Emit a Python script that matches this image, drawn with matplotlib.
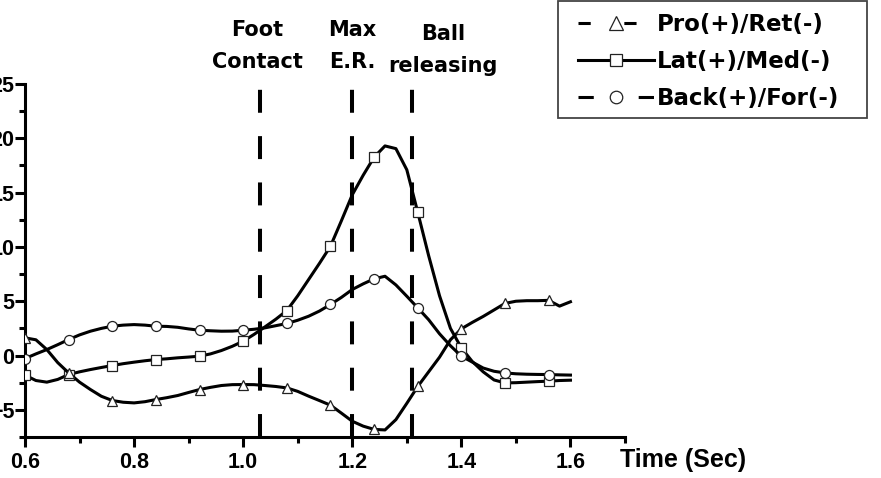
import matplotlib
matplotlib.use("Agg")
import matplotlib.pyplot as plt
from matplotlib.lines import Line2D
from matplotlib.patches import Rectangle
from matplotlib.ticker import MultipleLocator, FormatStrFormatter
from matplotlib.transforms import blended_transform_factory

# sample times (s), read every 0.02 s off the curves; markers sit every 0.08 s
time = [0.60, 0.62, 0.64, 0.66, 0.68, 0.70, 0.72, 0.74, 0.76, 0.78,
        0.80, 0.82, 0.84, 0.86, 0.88, 0.90, 0.92, 0.94, 0.96, 0.98,
        1.00, 1.02, 1.04, 1.06, 1.08, 1.10, 1.12, 1.14, 1.16, 1.18,
        1.20, 1.22, 1.24, 1.26, 1.28, 1.30, 1.32, 1.34, 1.36, 1.38,
        1.40, 1.42, 1.44, 1.46, 1.48, 1.50, 1.52, 1.54, 1.56, 1.58, 1.60]

pro_ret = [1.63, 1.45, 0.55, -0.65, -1.60, -2.45, -3.13, -3.75, -4.14, -4.30,
           -4.36, -4.25, -4.05, -3.88, -3.68, -3.40, -3.13, -2.93, -2.76, -2.68,
           -2.67, -2.68, -2.76, -2.85, -2.98, -3.30, -3.74, -4.15, -4.57, -5.30,
           -6.05, -6.50, -6.80, -6.85, -5.90, -4.40, -2.85, -1.50, -0.15, 1.45,
           2.46, 3.05, 3.60, 4.20, 4.80, 5.00, 5.05, 5.05, 5.08, 4.55, 4.95]

lat_med = [-1.80, -2.30, -2.45, -2.20, -1.75, -1.50, -1.29, -1.10, -0.92, -0.75,
           -0.61, -0.48, -0.37, -0.30, -0.21, -0.14, -0.06, 0.15, 0.46, 0.85,
           1.32, 1.95, 2.64, 3.35, 4.14, 5.50, 7.00, 8.50, 10.06, 12.40,
           14.80, 16.60, 18.26, 19.30, 19.05, 17.10, 13.20, 9.20, 5.50, 2.50,
           0.70, -0.55, -1.50, -2.25, -2.52, -2.50, -2.45, -2.40, -2.36, -2.30, -2.27]

back_for = [-0.28, 0.15, 0.55, 1.00, 1.47, 1.90, 2.24, 2.50, 2.70, 2.80,
            2.85, 2.80, 2.70, 2.68, 2.60, 2.45, 2.33, 2.28, 2.24, 2.25,
            2.33, 2.42, 2.55, 2.75, 2.95, 3.25, 3.62, 4.10, 4.70, 5.35,
            6.08, 6.60, 7.06, 7.30, 6.50, 5.46, 4.39, 3.30, 2.00, 0.90,
            -0.06, -0.60, -1.15, -1.45, -1.60, -1.68, -1.72, -1.74, -1.75, -1.78, -1.80]

series_labels = ["Pro(+)/Ret(-)", "Lat(+)/Med(-)", "Back(+)/For(-)"]
event_labels = ["Foot\nContact", "Max\nE.R.", "Ball\nreleasing"]
event_times = [1.03, 1.20, 1.31]

plt.rcParams["font.family"] = ["Liberation Sans", "DejaVu Sans"]
plt.rcParams["font.weight"] = "bold"

fig = plt.figure(figsize=(8.81, 4.78), dpi=100)
ax = fig.add_axes([25 / 881, 1 - 437 / 478, 600 / 881, 353 / 478])

mk = dict(markerfacecolor="white", markeredgecolor="#222222",
          markeredgewidth=0.9, markevery=slice(0, 49, 4))
ax.plot(time, lat_med, color="black", lw=2.2, marker="s", ms=6.5, zorder=3, **mk)
ax.plot(time, back_for, color="black", lw=2.2, marker="o", ms=7.2, zorder=3, **mk)
ax.plot(time, pro_ret, color="black", lw=2.2, marker="^", ms=7.8, zorder=4, **mk)

# event markers, dashes start at the x axis
for t in event_times:
    ax.plot([t, t], [-7.5, 24.6], color="black", lw=2.9,
            linestyle=(0, (5.7, 5.8)), clip_on=False, zorder=2)

ax.set_xlim(0.6, 1.7)
ax.set_ylim(-7.5, 25)
ax.xaxis.set_major_locator(MultipleLocator(0.2))
ax.xaxis.set_minor_locator(MultipleLocator(0.1))
ax.xaxis.set_major_formatter(FormatStrFormatter("%.1f"))
ax.yaxis.set_major_locator(MultipleLocator(5))
ax.yaxis.set_minor_locator(MultipleLocator(2.5))

for s in ("top", "right"):
    ax.spines[s].set_visible(False)
for s in ("left", "bottom"):
    ax.spines[s].set_linewidth(2.2)

ax.tick_params(which="major", direction="out", length=7, width=2.2, labelsize=15.5)
ax.tick_params(which="minor", direction="out", length=4.5, width=2.2)
ax.tick_params(axis="x", which="major", pad=4)
ax.tick_params(axis="y", which="major", pad=0.5)

fig.text(620 / 881, 1 - 467 / 478, "Time (Sec)", fontsize=18,
         fontweight="bold", va="baseline", ha="left")

trans = blended_transform_factory(ax.transData, fig.transFigure)
label_x = [1.026, 1.200, 1.366]
label_y = [1 - 46 / 478, 1 - 46 / 478, 1 - 50 / 478]
for lab, lx, ly in zip(event_labels, label_x, label_y):
    ax.text(lx, ly, lab, transform=trans, ha="center", va="center",
            fontsize=15, fontweight="bold", family="DejaVu Sans",
            linespacing=1.8, multialignment="center")

leg_mk = dict(markerfacecolor="white", markeredgecolor="#222222", markeredgewidth=0.9)
handles = [
    Line2D([], [], color="black", lw=2.2, linestyle=(0, (4, 11)), marker="^",
           ms=9.5, **leg_mk),
    Line2D([], [], color="black", lw=2.2, linestyle="-", marker="s",
           ms=8.5, **leg_mk),
    Line2D([], [], color="black", lw=2.2, linestyle=(0, (5, 14.7)), marker="o",
           ms=9, **leg_mk),
]
fig.legend(handles, series_labels, loc="upper left",
           bbox_to_anchor=(578 / 881, 1 - 13 / 478), borderaxespad=0,
           prop={"family": "DejaVu Sans", "weight": "bold", "size": 16.5},
           handlelength=3.3, handletextpad=0.15, labelspacing=0.62,
           borderpad=0, numpoints=1, frameon=False)

# legend box drawn separately: wider side padding than top/bottom
fig.patches.append(Rectangle((558 / 881, 1 - 118 / 478), 309 / 881, 117 / 478,
                             transform=fig.transFigure, fill=False,
                             edgecolor="#444444", lw=1.3))

fig.savefig("out.png", dpi=100)
